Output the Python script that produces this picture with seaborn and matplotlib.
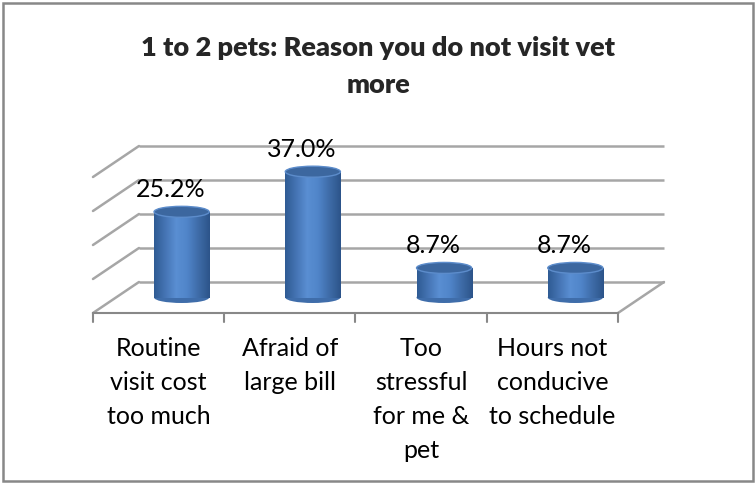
import numpy as np
import matplotlib
matplotlib.use("Agg")
import matplotlib.pyplot as plt
from matplotlib.patches import Ellipse, Rectangle
from matplotlib.colors import LinearSegmentedColormap
import seaborn as sns

categories = ["Routine\nvisit cost\ntoo much", "Afraid of\nlarge bill",
              "Too\nstressful\nfor me &\npet", "Hours not\nconducive\nto schedule"]
values = [25.2, 37.0, 8.7, 8.7]
value_labels = ["25.2%", "37.0%", "8.7%", "8.7%"]
gridlines = [0, 10, 20, 30, 40]
title = "1 to 2 pets: Reason you do not visit vet\nmore"

sns.set_style("white")
plt.rcParams['font.family'] = ['Lato', 'DejaVu Sans']

W, H = 755, 483
fig = plt.figure(figsize=(W / 100, H / 100), dpi=100)
ax = fig.add_axes([0, 0, 1, 1])

# pixel geometry -> data scale
px_x = 131.25          # px per category
px_y = 3.4             # px per percent
x0_px = 158.6          # pixel x of category 0
y0_px = 313            # pixel y (from top) of the front floor line
depth_dx = 46 / px_x   # full depth offset in data units
depth_dy = 31 / px_y
bar_w = 0.42

sns.barplot(x=categories, y=values, ax=ax, width=bar_w, color="#4F81BD",
            edgecolor="none", zorder=3)

xlim = (-x0_px / px_x, (W - x0_px) / px_x)
ylim = (-(H - y0_px) / px_y, y0_px / px_y)

grid_c = "#A6A6A6"
# back wall gridlines and left wall diagonals
for g in gridlines:
    ax.plot([-0.5 + depth_dx, 3.5 + depth_dx], [g + depth_dy, g + depth_dy],
            color=grid_c, lw=1.8, zorder=1, solid_capstyle="butt")
    ax.plot([-0.5, -0.5 + depth_dx], [g, g + depth_dy],
            color=grid_c, lw=1.8, zorder=1)
# right floor edge
ax.plot([3.5, 3.5 + depth_dx], [0, depth_dy], color=grid_c, lw=1.8, zorder=1)
# front floor axis + ticks
ax.plot([-0.5, 3.5], [0, 0], color="#888888", lw=1.5, zorder=2)
for b in np.arange(-0.5, 4.0, 1.0):
    ax.plot([b, b], [0, -9 / px_y], color="#888888", lw=1.5, zorder=2)

# cylinder shading
cmap = LinearSegmentedColormap.from_list(
    "cyl", ["#2F5B93", "#4574B4", "#5A8FD3", "#4F84C8", "#3E6BA7", "#2C5489"])
grad = np.linspace(0, 1, 256).reshape(1, -1)
cap_h = 11 / px_y
mid_dx = depth_dx / 2
mid_dy = depth_dy / 2

for i, p in enumerate(ax.patches[:len(values)]):
    p.set_x(p.get_x() + mid_dx)
    p.set_y(mid_dy)
    x_left = p.get_x()
    w = p.get_width()
    h = p.get_height()
    xc = x_left + w / 2
    # bottom rounded edge
    ax.add_patch(Ellipse((xc, mid_dy), w, cap_h, facecolor="#3F6DAA",
                         edgecolor="none", zorder=2.5))
    im = ax.imshow(grad, cmap=cmap, aspect="auto", zorder=3.5,
                   extent=[x_left, x_left + w, mid_dy, mid_dy + h])
    im.set_clip_path(p)
    # top cap
    ax.add_patch(Ellipse((xc, mid_dy + h), w, cap_h, facecolor="#3C679F",
                         edgecolor="#5C8CCB", lw=1.0, zorder=4))
    ax.text(i + 12 / px_x, mid_dy + h + 22 / px_y, value_labels[i],
            ha="center", va="center", fontsize=18, color="black", zorder=5)

for i, c in enumerate(categories):
    ax.text(i, -(337 - y0_px) / px_y, c, ha="center", va="top",
            fontsize=18, linespacing=1.58, color="black")

ax.set_xlim(*xlim)
ax.set_ylim(*ylim)
ax.axis("off")

fig.text(378 / W, 1 - 36 / H, title, ha="center", va="top", fontsize=19.5,
         fontweight="heavy", linespacing=1.65)

fig.patches.append(Rectangle((3 / W, 2 / H), 750 / W, 478 / H, fill=False,
                             edgecolor="#888888", lw=1.8,
                             transform=fig.transFigure, figure=fig))

fig.savefig("out.png", dpi=100)
